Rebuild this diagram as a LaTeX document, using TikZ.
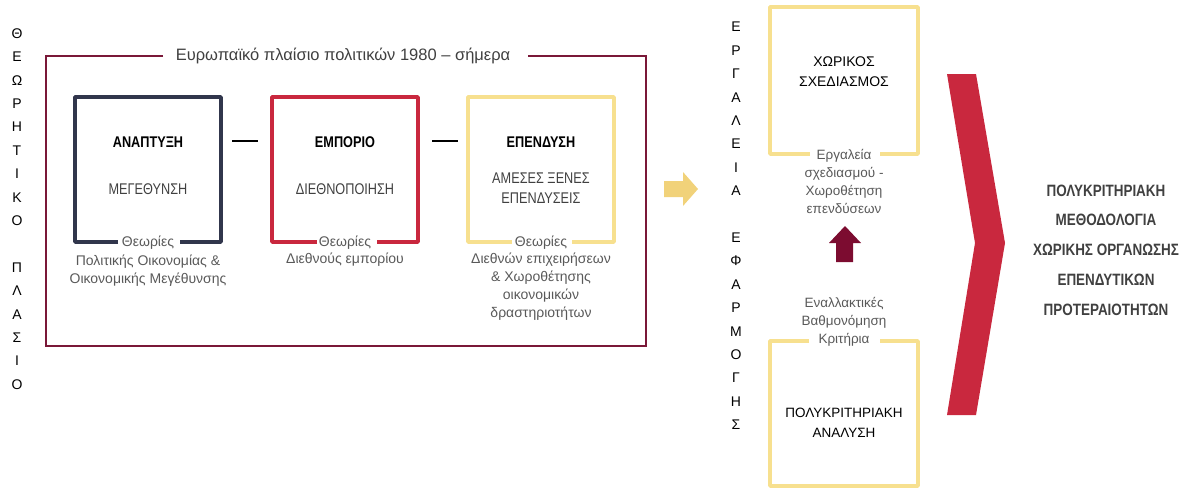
\documentclass[tikz,border=0pt]{standalone}
\usepackage{fontspec}
\setmainfont{Liberation Sans}
\newfontfamily\narrowfont[FakeStretch=0.82]{Liberation Sans}
\definecolor{navy}{HTML}{31364C}
\definecolor{crim}{HTML}{C9283E}
\definecolor{gold}{HTML}{F7E08F}
\definecolor{goldarrow}{HTML}{F1D27A}
\definecolor{maroon}{HTML}{7A1838}
\definecolor{darkmaroon}{HTML}{7C0C30}
\definecolor{txtgray}{HTML}{595959}
\definecolor{txtdark}{HTML}{404040}
\begin{document}
\begin{tikzpicture}[x=1pt,y=-1pt,
  boxline/.style={line width=3.5pt,line join=round},
  frameline/.style={line width=1.8pt,maroon},
  boxtitle/.style={font=\narrowfont\bfseries\fontsize{15.5}{20}\selectfont,text=black,align=center,inner sep=0pt},
  boxsub/.style={font=\narrowfont\fontsize{15.5}{20}\selectfont,text=txtdark,align=center,inner sep=0pt},
  note/.style={font=\fontsize{14}{18}\selectfont,text=txtgray,align=center,inner sep=0pt},
  vert/.style={font=\fontsize{14}{23.4}\selectfont,text=black,align=center,inner sep=0pt},
  dashline/.style={line width=1.3pt,black}]
\useasboundingbox (0,0) rectangle (1189,488);

% left vertical label
\node[vert] (theory) at (17,209) {Θ\\Ε\\Ω\\Ρ\\Η\\Τ\\Ι\\Κ\\Ο\\\mbox{}\\Π\\Λ\\Α\\Σ\\Ι\\Ο};

% outer frame
\node[font=\fontsize{16.5}{20}\selectfont,text=txtdark,inner sep=0pt] (frametitle) at (343,56) {Ευρωπαϊκό πλαίσιο πολιτικών 1980 – σήμερα};
\draw[frameline] (163,56) -- (46,56) -- (46,346) -- (646,346) -- (646,56) -- (528,56);

% box 1
\draw[boxline,navy] (118,242) -- (75,242) -- (75,97) -- (221,97) -- (221,242) -- (180,242);
\node[boxtitle] (b1t) at (148,142) {ΑΝΑΠΤΥΞΗ};
\node[boxsub] (b1s) at (148,189) {ΜΕΓΕΘΥΝΣΗ};
\node[note] (b1n) at (148,243) {Θεωρίες};
\node[note] (b1d) at (148,271) {Πολιτικής Οικονομίας \&\\Οικονομικής Μεγέθυνσης};

% box 2
\draw[boxline,crim] (317,242) -- (272,242) -- (272,97) -- (418,97) -- (418,242) -- (377,242);
\node[boxtitle] (b2t) at (345,142) {ΕΜΠΟΡΙΟ};
\node[boxsub] (b2s) at (345,189) {ΔΙΕΘΝΟΠΟΙΗΣΗ};
\node[note] (b2n) at (345,243) {Θεωρίες};
\node[note] (b2d) at (345,260) {Διεθνούς εμπορίου};

% box 3
\draw[boxline,gold] (512,242) -- (468,242) -- (468,97) -- (614,97) -- (614,242) -- (572,242);
\node[boxtitle] (b3t) at (541,142) {ΕΠΕΝΔΥΣΗ};
\node[boxsub] (b3s) at (541,188) {ΑΜΕΣΕΣ ΞΕΝΕΣ\\ΕΠΕΝΔΥΣΕΙΣ};
\node[note] (b3n) at (541,243) {Θεωρίες};
\node[note] (b3d) at (541,287) {Διεθνών επιχειρήσεων\\\& Χωροθέτησης\\οικονομικών\\δραστηριοτήτων};

% dashes between boxes
\coordinate (d1a) at (232,141); \coordinate (d1b) at (258,141);
\coordinate (d2a) at (432,141); \coordinate (d2b) at (458,141);
\draw[dashline] (d1a) -- (d1b);
\draw[dashline] (d2a) -- (d2b);

% yellow block arrow
\fill[goldarrow] (664,181) -- (683,181) -- (683,172) -- (698,189) -- (683,206) -- (683,197) -- (664,197) -- cycle;

% second vertical label
\node[vert] (tools) at (736,226) {Ε\\Ρ\\Γ\\Α\\Λ\\Ε\\Ι\\Α\\\mbox{}\\Ε\\Φ\\Α\\Ρ\\Μ\\Ο\\Γ\\Η\\Σ};

% top right box
\draw[boxline,gold] (810,154) -- (770,154) -- (770,7) -- (918,7) -- (918,154) -- (880,154);
\node[font=\fontsize{14}{20}\selectfont,align=center,inner sep=0pt] (plan) at (844,72) {ΧΩΡΙΚΟΣ\\ΣΧΕΔΙΑΣΜΟΣ};
\node[font=\fontsize{13.5}{18}\selectfont,text=txtgray,align=center,inner sep=0pt] (plann) at (844,181) {Εργαλεία\\σχεδιασμού -\\Χωροθέτηση\\επενδύσεων};

% up arrow
\fill[darkmaroon] (836,262) -- (836,243) -- (829,243) -- (845,226) -- (861,243) -- (853,243) -- (853,262) -- cycle;

% bottom right box
\draw[boxline,gold] (809,341) -- (770,341) -- (770,486) -- (918,486) -- (918,341) -- (880,341);
\node[font=\fontsize{13.5}{18}\selectfont,text=txtgray,align=center,inner sep=0pt] (mcan) at (844,322) {Εναλλακτικές\\Βαθμονόμηση\\Κριτήρια};
\node[font=\fontsize{13.5}{20}\selectfont,align=center,inner sep=0pt] (mca) at (844,423) {ΠΟΛΥΚΡΙΤΗΡΙΑΚΗ\\ΑΝΑΛΥΣΗ};

% chevron
\fill[crim] (947,74) -- (976,74) -- (1005,243) -- (976,415) -- (947,415) -- (975,243) -- cycle;

% result text
\node[font=\narrowfont\bfseries\fontsize{16.4}{29.8}\selectfont,text=txtdark,align=center,inner sep=0pt] (result) at (1106,250) {ΠΟΛΥΚΡΙΤΗΡΙΑΚΗ\\ΜΕΘΟΔΟΛΟΓΙΑ\\ΧΩΡΙΚΗΣ ΟΡΓΑΝΩΣΗΣ\\ΕΠΕΝΔΥΤΙΚΩΝ\\ΠΡΟΤΕΡΑΙΟΤΗΤΩΝ};
\end{tikzpicture}
\end{document}
